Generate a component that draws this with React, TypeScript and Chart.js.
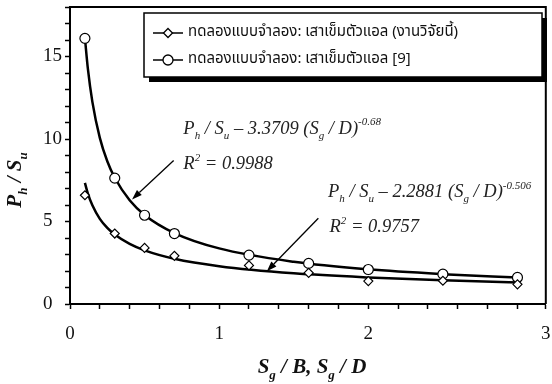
import React, { useEffect, useRef } from "react";
import { Chart, registerables } from "chart.js";

Chart.register(...registerables);

// ---- data ----
const xValues = [0.1, 0.3, 0.5, 0.7, 1.2, 1.6, 2.0, 2.5, 3.0];
const thisStudy = [6.59, 4.27, 3.4, 2.92, 2.34, 1.89, 1.39, 1.41, 1.19];
const ref9 = [16.1, 7.63, 5.38, 4.27, 2.96, 2.46, 2.09, 1.81, 1.61];

// trend curves
const curveX = [0.1, 0.12, 0.15, 0.2, 0.25, 0.3, 0.4, 0.5, 0.7, 1.0, 1.5, 2.0, 2.5, 3.0];
const curveRef9 = [16.13, 14.25, 12.25, 10.07, 8.65, 7.65, 6.29, 5.4, 4.3, 3.37, 2.56, 2.1, 1.81, 1.6];
const curveThis = [7.34, 6.69, 5.98, 5.16, 4.61, 4.21, 3.64, 3.25, 2.74, 2.29, 1.86, 1.61, 1.44, 1.31];

const legendLabels = [
  "ทดลองแบบจำลอง: เสาเข็มตัวแอล (งานวิจัยนี้)",
  "ทดลองแบบจำลอง: เสาเข็มตัวแอล [9]",
];
const xTickLabels = ["0", "1", "2", "3"];
const xLabelValues = [0, 1, 2];
const xMinorStep = 0.2;
const xMax = 3.19;
const yMax = 18;
const yLabelStep = 5;

const eq1 = "3.3709";
const exp1 = "-0.68";
const r2a = "0.9988";
const eq2 = "2.2881";
const exp2 = "-0.506";
const r2b = "0.9757";

type Seg = [string, number]; // 0 normal, 1 sub, 2 sup

const SERIF = '"Liberation Serif", "Times New Roman", serif';

function measureRich(ctx: CanvasRenderingContext2D, segs: Seg[], size: number, weight: string) {
  let w = 0;
  for (const [t, k] of segs) {
    const s = k === 0 ? size : Math.round(size * 0.62);
    ctx.font = `italic ${weight} ${s}px ${SERIF}`;
    w += ctx.measureText(t).width;
  }
  return w;
}

function drawRich(
  ctx: CanvasRenderingContext2D,
  x: number,
  y: number,
  segs: Seg[],
  size: number,
  weight: string
) {
  let cx = x;
  ctx.textBaseline = "alphabetic";
  ctx.textAlign = "left";
  for (const [t, k] of segs) {
    const s = k === 0 ? size : Math.round(size * 0.62);
    ctx.font = `italic ${weight} ${s}px ${SERIF}`;
    const dy = k === 1 ? size * 0.27 : k === 2 ? -size * 0.45 : 0;
    ctx.fillText(t, cx, y + dy);
    cx += ctx.measureText(t).width;
  }
}

function arrow(ctx: CanvasRenderingContext2D, x1: number, y1: number, x2: number, y2: number) {
  const ang = Math.atan2(y2 - y1, x2 - x1);
  const len = 10;
  const half = 3.5;
  const bx = x2 - len * Math.cos(ang);
  const by = y2 - len * Math.sin(ang);
  ctx.beginPath();
  ctx.moveTo(x1, y1);
  ctx.lineTo(bx, by);
  ctx.lineWidth = 1.3;
  ctx.strokeStyle = "#000";
  ctx.stroke();
  ctx.beginPath();
  ctx.moveTo(x2, y2);
  ctx.lineTo(bx + half * Math.sin(ang), by - half * Math.cos(ang));
  ctx.lineTo(bx - half * Math.sin(ang), by + half * Math.cos(ang));
  ctx.closePath();
  ctx.fillStyle = "#000";
  ctx.fill();
}

const decorPlugin = {
  id: "decor",
  afterDraw(chart: any) {
    const ctx: CanvasRenderingContext2D = chart.ctx;
    const { left, right, top, bottom } = chart.chartArea;
    const xs = chart.scales.x;
    const ys = chart.scales.y;
    ctx.save();
    // frame top/right
    ctx.strokeStyle = "#000";
    ctx.lineWidth = 2;
    ctx.beginPath();
    ctx.moveTo(left, top);
    ctx.lineTo(right, top);
    ctx.lineTo(right, bottom);
    ctx.stroke();

    // annotations
    ctx.fillStyle = "#222";
    const eqA: Seg[] = [["P", 0], ["h", 1], [" / S", 0], ["u", 1], [` – ${eq1} (S`, 0], ["g", 1], [" / D)", 0], [exp1, 2]];
    const rA: Seg[] = [["R", 0], ["2", 2], [` = ${r2a}`, 0]];
    const eqB: Seg[] = [["P", 0], ["h", 1], [" / S", 0], ["u", 1], [` – ${eq2} (S`, 0], ["g", 1], [" / D)", 0], [exp2, 2]];
    const rB: Seg[] = [["R", 0], ["2", 2], [` = ${r2b}`, 0]];
    drawRich(ctx, xs.getPixelForValue(0.76), ys.getPixelForValue(10.33), eqA, 18.5, "normal");
    drawRich(ctx, xs.getPixelForValue(0.76), ys.getPixelForValue(8.16), rA, 18.5, "normal");
    drawRich(ctx, xs.getPixelForValue(1.73), ys.getPixelForValue(6.47), eqB, 18.5, "normal");
    drawRich(ctx, xs.getPixelForValue(1.74), ys.getPixelForValue(4.35), rB, 18.5, "normal");

    arrow(ctx, xs.getPixelForValue(0.695), ys.getPixelForValue(8.7), xs.getPixelForValue(0.416), ys.getPixelForValue(6.34));
    arrow(ctx, xs.getPixelForValue(1.665), ys.getPixelForValue(5.2), xs.getPixelForValue(1.32), ys.getPixelForValue(1.99));

    // axis titles
    ctx.fillStyle = "#111";
    const xt: Seg[] = [["S", 0], ["g", 1], [" / B, S", 0], ["g", 1], [" / D", 0]];
    const wX = measureRich(ctx, xt, 21, "bold");
    drawRich(ctx, 312 - wX / 2, 373, xt, 21, "bold");
    const yt: Seg[] = [["P", 0], ["h", 1], [" / S", 0], ["u", 1]];
    const wY = measureRich(ctx, yt, 21, "bold");
    ctx.translate(21, 180);
    ctx.rotate(-Math.PI / 2);
    drawRich(ctx, -wY / 2, 0, yt, 21, "bold");
    ctx.setTransform(1, 0, 0, 1, 0, 0);

    // legend
    const lx = 144, ly = 13, lw = 398, lh = 64;
    ctx.fillStyle = "#000";
    ctx.fillRect(lx + 5, ly + 5, lw, lh);
    ctx.fillStyle = "#fff";
    ctx.fillRect(lx, ly, lw, lh);
    ctx.strokeStyle = "#000";
    ctx.lineWidth = 1.5;
    ctx.strokeRect(lx, ly, lw, lh);
    const rows = [33, 60];
    rows.forEach((ry, i) => {
      ctx.beginPath();
      ctx.moveTo(153, ry);
      ctx.lineTo(183, ry);
      ctx.lineWidth = 1.5;
      ctx.strokeStyle = "#000";
      ctx.stroke();
      ctx.fillStyle = "#fff";
      ctx.beginPath();
      if (i === 0) {
        ctx.moveTo(168, ry - 4.5);
        ctx.lineTo(172.5, ry);
        ctx.lineTo(168, ry + 4.5);
        ctx.lineTo(163.5, ry);
        ctx.closePath();
      } else {
        ctx.arc(168, ry, 5, 0, Math.PI * 2);
      }
      ctx.fill();
      ctx.lineWidth = 1.3;
      ctx.stroke();
      ctx.fillStyle = "#111";
      ctx.font = '15px "Noto Sans Thai", Tahoma, "DejaVu Sans", "Noto Sans", sans-serif';
      ctx.textBaseline = "middle";
      ctx.textAlign = "left";
      ctx.fillText(legendLabels[i], 188, ry);
    });
    ctx.restore();
  },
};

export default function App() {
  const ref = useRef<HTMLCanvasElement>(null);
  useEffect(() => {
    document.body.style.margin = "0";
    const canvas = ref.current!;
    const chart = new Chart(canvas, {
      type: "scatter",
      data: {
        datasets: [
          {
            label: legendLabels[0],
            data: xValues.map((x, i) => ({ x, y: thisStudy[i] })),
            pointStyle: "rectRot",
            pointRadius: 4.5,
            pointBackgroundColor: "#fff",
            pointBorderColor: "#000",
            pointBorderWidth: 1.2,
            showLine: false,
            order: 0,
          },
          {
            label: legendLabels[1],
            data: xValues.map((x, i) => ({ x, y: ref9[i] })),
            pointStyle: "circle",
            pointRadius: 5,
            pointBackgroundColor: "#fff",
            pointBorderColor: "#000",
            pointBorderWidth: 1.2,
            showLine: false,
            order: 0,
          },
          {
            label: "fit ref9",
            data: curveX.map((x, i) => ({ x, y: curveRef9[i] })),
            showLine: true,
            pointRadius: 0,
            borderColor: "#000",
            borderWidth: 2.5,
            cubicInterpolationMode: "monotone",
            order: 1,
          },
          {
            label: "fit this",
            data: curveX.map((x, i) => ({ x, y: curveThis[i] })),
            showLine: true,
            pointRadius: 0,
            borderColor: "#000",
            borderWidth: 2.5,
            cubicInterpolationMode: "monotone",
            order: 1,
          },
        ],
      },
      options: {
        responsive: false,
        animation: false,
        events: [],
        layout: { padding: { top: 7, right: 2, left: 43, bottom: 0 } },
        plugins: { legend: { display: false }, tooltip: { enabled: false } },
        scales: {
          x: {
            type: "linear",
            min: 0,
            max: xMax,
            afterBuildTicks: (scale: any) => {
              const t: any[] = [];
              for (let i = 0; i * xMinorStep <= 3.0001; i++) t.push({ value: +(i * xMinorStep).toFixed(2) });
              t.push({ value: xMax });
              scale.ticks = t;
            },
            afterFit: (scale: any) => {
              scale.height = 80;
              scale.paddingLeft = 0;
              scale.paddingRight = 0;
            },
            ticks: {
              autoSkip: false,
              maxRotation: 0,
              padding: 14,
              color: "#111",
              font: { family: SERIF, size: 19 },
              callback: (v: any) => {
                if (v === xMax) return xTickLabels[3];
                const idx = xLabelValues.indexOf(Math.round(v * 100) / 100);
                return idx >= 0 ? xTickLabels[idx] : "";
              },
            },
            grid: { drawOnChartArea: false, color: "#000", tickLength: 5, tickWidth: 1.5 },
            border: { display: true, color: "#000", width: 2 },
          },
          y: {
            type: "linear",
            min: 0,
            max: yMax,
            afterFit: (scale: any) => {
              scale.width = 27;
              scale.paddingTop = 0;
              scale.paddingBottom = 0;
            },
            ticks: {
              stepSize: 1,
              autoSkip: false,
              padding: 3,
              crossAlign: "far",
              color: "#111",
              font: { family: SERIF, size: 19 },
              callback: (v: any) => (v % yLabelStep === 0 ? String(v) : ""),
            },
            grid: { drawOnChartArea: false, color: "#000", tickLength: 5, tickWidth: 1.5 },
            border: { display: true, color: "#000", width: 2 },
          },
        },
      },
      plugins: [decorPlugin],
    });
    return () => chart.destroy();
  }, []);
  return <canvas ref={ref} width={552} height={384} style={{ display: "block", width: 552, height: 384 }} />;
}
